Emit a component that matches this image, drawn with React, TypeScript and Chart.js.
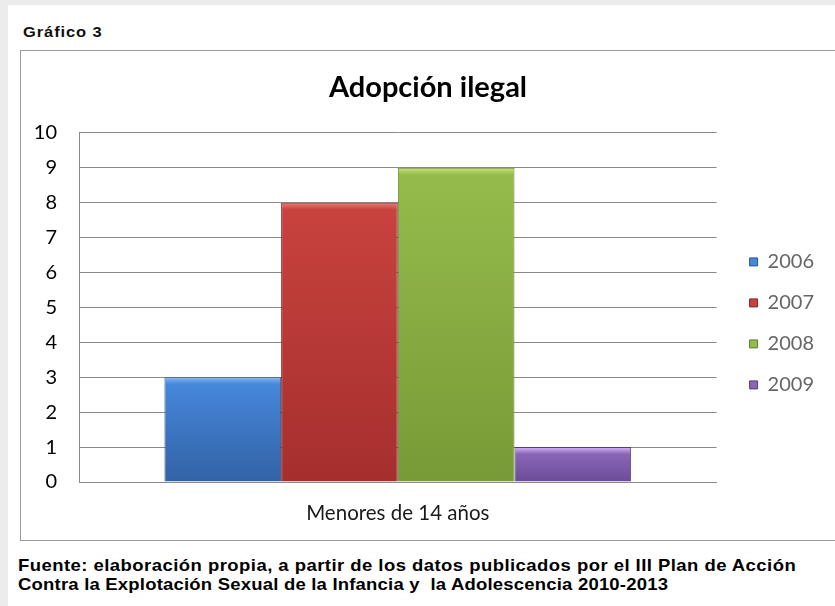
import React, { useEffect, useRef } from "react";
import { Chart, registerables } from "chart.js";

Chart.register(...registerables);

const categories = ["Menores de 14 años"];
const seriesNames = ["2006", "2007", "2008", "2009"];
const values2006 = [3];
const values2007 = [8];
const values2008 = [9];
const values2009 = [1];
const yTicks = [0, 1, 2, 3, 4, 5, 6, 7, 8, 9, 10];

const palette = [
  { light: "#84b6f2", top: "#4687da", bottom: "#3262a6", edge: "#2b5590" },
  { light: "#ec7e7a", top: "#c8423e", bottom: "#a52f2d", edge: "#862625" },
  { light: "#c8e482", top: "#95bb4b", bottom: "#789a37", edge: "#617d2c" },
  { light: "#d6b6fa", top: "#8966b6", bottom: "#6b4b98", edge: "#553c7c" },
];

const FONT = "Lato, 'Open Sans', sans-serif";

export default function App() {
  const ref = useRef<HTMLCanvasElement>(null);

  useEffect(() => {
    if (!ref.current) return;
    const all = [values2006, values2007, values2008, values2009];
    const makeFill = (i: number) => (c: any) => {
      const chart = c.chart;
      const p = palette[i];
      const area = chart.chartArea;
      const y = chart.scales?.y;
      if (!area || !y || c.parsed == null) return p.top;
      const yTop = y.getPixelForValue(c.parsed.y);
      const yBot = y.getPixelForValue(0);
      const h = Math.max(1, yBot - yTop);
      const g = chart.ctx.createLinearGradient(0, yTop, 0, yBot);
      const s = Math.min(0.5, 7 / h);
      g.addColorStop(0, p.light);
      g.addColorStop(s, p.top);
      g.addColorStop(1, p.bottom);
      return g;
    };
    const chart = new Chart(ref.current, {
      type: "bar",
      data: {
        labels: categories,
        datasets: seriesNames.map((name, i) => ({
          label: name,
          data: all[i],
          yAxisID: "y",
          backgroundColor: makeFill(i),
          borderColor: palette[i].edge,
          borderWidth: 1,
          categoryPercentage: 0.732,
          barPercentage: 1,
        })),
      },
      options: {
        animation: false,
        responsive: false,
        maintainAspectRatio: false,
        layout: { padding: { left: 11, right: 11, top: 0, bottom: 0 } },
        plugins: {
          title: {
            display: true,
            text: "Adopción ilegal",
            color: "#000",
            font: { family: FONT, size: 29, weight: "bold", lineHeight: 1.2 },
            padding: { top: 19, bottom: 28 },
          },
          legend: {
            display: true,
            position: "right",
            fullSize: false,
            title: {
              display: true,
              text: " ",
              font: { family: FONT, size: 16, lineHeight: 1.25 },
              padding: 6,
            },
            labels: {
              color: "#000",
              font: { family: FONT, size: 20, lineHeight: 1.2 },
              boxWidth: 8,
              boxHeight: 8,
              padding: 21,
              generateLabels: (ch: any) =>
                ch.data.datasets.map((d: any, i: number) => ({
                  text: d.label,
                  fillStyle: palette[i].top,
                  strokeStyle: palette[i].edge,
                  lineWidth: 1,
                  datasetIndex: i,
                  hidden: false,
                })),
            },
          },
          tooltip: { enabled: false },
        },
        scales: {
          x: {
            grid: { display: false, drawTicks: false },
            border: { display: true, color: "#8a8a8a", width: 1 },
            ticks: {
              color: "#1a1a1a",
              font: { family: FONT, size: 20.5 },
              padding: 19,
            },
            afterFit: (s: any) => {
              s.height = 57;
            },
          },
          y: {
            min: 0,
            max: 10,
            afterBuildTicks: (s: any) => {
              s.ticks = yTicks.map((v) => ({ value: v }));
            },
            grid: { color: "#8a8a8a", lineWidth: 1, drawTicks: false },
            border: { display: true, color: "#8a8a8a", width: 1 },
            ticks: {
              color: "#000",
              font: { family: FONT, size: 20 },
              padding: 22,
            },
            afterFit: (s: any) => {
              s.width = 47;
            },
          },
          yGap: {
            type: "linear",
            position: "right",
            display: true,
            grid: { display: false, drawTicks: false },
            border: { display: false },
            ticks: { display: false },
            afterFit: (s: any) => {
              s.width = 12;
            },
          },
        },
      },
    });
    return () => chart.destroy();
  }, []);

  return (
    <div
      style={{
        position: "absolute",
        left: 0,
        top: 0,
        width: 835,
        height: 606,
        background: "#ececec",
        overflow: "hidden",
      }}
    >
      <div
        style={{
          position: "absolute",
          left: 8,
          top: 5,
          width: 840,
          height: 610,
          background: "#fff",
        }}
      />
      <div
        style={{
          position: "absolute",
          left: 23,
          top: 24,
          fontFamily: "'Liberation Sans', Arial, sans-serif",
          fontWeight: "bold",
          fontSize: 16.5,
          lineHeight: "18px",
          letterSpacing: "0.9px",
          color: "#111",
          whiteSpace: "nowrap",
          transform: "scaleY(0.85)",
          transformOrigin: "0 0",
        }}
      >
        Gráfico 3
      </div>
      <div
        style={{
          position: "absolute",
          left: 20,
          top: 50,
          width: 830,
          height: 489,
          border: "1px solid #9a9a9a",
          background: "#fff",
        }}
      />
      <canvas
        ref={ref}
        width={814}
        height={488}
        style={{ position: "absolute", left: 21, top: 51, width: 814, height: 488 }}
      />
      <div
        style={{
          position: "absolute",
          left: 18,
          top: 557,
          fontFamily: "'Liberation Sans', Arial, sans-serif",
          fontWeight: "bold",
          fontSize: 18.5,
          lineHeight: "20.5px",
          color: "#000",
          whiteSpace: "nowrap",
          transform: "scaleY(0.88)",
          transformOrigin: "0 0",
        }}
      >
        <div style={{ letterSpacing: "0.45px" }}>
          Fuente: elaboración propia, a partir de los datos publicados por el III Plan de Acción
        </div>
        <div style={{ letterSpacing: "0.2px" }}>
          Contra la Explotación Sexual de la Infancia y&nbsp; la Adolescencia 2010-2013
        </div>
      </div>
    </div>
  );
}
